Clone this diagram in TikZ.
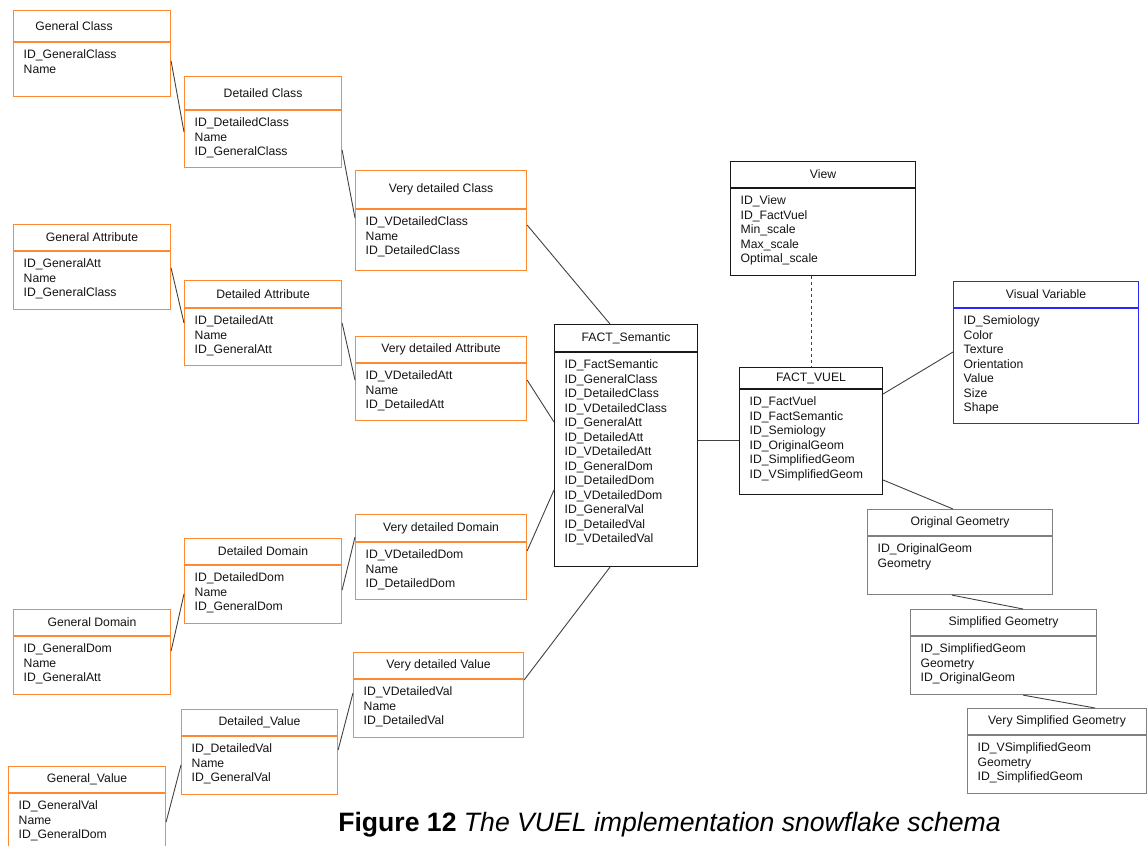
\documentclass[tikz,border=0pt]{standalone}
\usepackage{fontspec}
\setmainfont{Liberation Sans}
\usetikzlibrary{calc}

\definecolor{dimorange}{RGB}{255,137,51}
\definecolor{visblue}{RGB}{40,40,255}
\definecolor{geomgray}{RGB}{128,128,128}
\definecolor{factblack}{RGB}{25,25,25}
\definecolor{linkgray}{RGB}{65,65,65}
\definecolor{inkcol}{RGB}{20,20,20}

\def\titlexshift{0pt}
\tikzset{
  title xshift/.store in=\titlexshift,
  boxcol/.store in=\boxcolour,
  boxcol=factblack,
  tblbox/.style={draw=\boxcolour, line width=1.1pt, rectangle, inner sep=0pt, fill=white},
  tblrule/.style={draw=\boxcolour, line width=1.1pt},
  tbltitle/.style={inner sep=0pt, text=inkcol, font=\fontsize{12.2}{14.5}\selectfont},
  tblrows/.style={inner sep=0pt, text=inkcol, align=left, font=\fontsize{12.2}{14.5}\selectfont},
  orangetbl/.style={boxcol=dimorange},
  bluetbl/.style={boxcol=visblue},
  graytbl/.style={boxcol=geomgray},
  blacktbl/.style={boxcol=factblack},
  link/.style={draw=linkgray, line width=0.9pt},
}

% #1 name, #2 north-west corner, #3 width, #4 height,
% #5 header height, #6 style, #7 title, #8 attribute rows
\newcommand\schemabox[8]{%
  \begin{scope}[#6]
    \node[tblbox, minimum width=#3, minimum height=#4, anchor=north west] (#1) at (#2) {};
    \draw[tblrule] ([yshift=-#5]#1.north west) -- ([yshift=-#5]#1.north east);
    \node[tbltitle, xshift=\titlexshift] (#1-title) at ($(#1.north)!0.5!([yshift=-#5]#1.north)$) {#7};
    \node[tblrows, anchor=north west] (#1-rows) at ([xshift=10.5, yshift=-#5-7.5]#1.north west) {#8};
  \end{scope}}

\begin{document}
\begin{tikzpicture}[x=1pt, y=-1pt]
\useasboundingbox (0,0) rectangle (1147,845);

% class hierarchy
\schemabox{gc}{13,10}{157}{86}{32}{orangetbl, title xshift=-18pt}{General Class}{ID\_GeneralClass\\Name}
\schemabox{dc}{184,76}{157}{91}{34}{orangetbl}{Detailed Class}{ID\_DetailedClass\\Name\\ID\_GeneralClass}
\schemabox{vdc}{355,170}{171}{100}{39}{orangetbl}{Very detailed Class}{ID\_VDetailedClass\\Name\\ID\_DetailedClass}

% attribute hierarchy
\schemabox{ga}{13,224}{157}{85}{27}{orangetbl}{General Attribute}{ID\_GeneralAtt\\Name\\ID\_GeneralClass}
\schemabox{da}{184,280}{157}{85}{28}{orangetbl}{Detailed Attribute}{ID\_DetailedAtt\\Name\\ID\_GeneralAtt}
\schemabox{vda}{355,336}{171}{84}{27}{orangetbl}{Very detailed Attribute}{ID\_VDetailedAtt\\Name\\ID\_DetailedAtt}

% domain hierarchy
\schemabox{gd}{13,609}{157}{85}{27}{orangetbl}{General Domain}{ID\_GeneralDom\\Name\\ID\_GeneralAtt}
\schemabox{dd}{184,538}{157}{85}{27}{orangetbl}{Detailed Domain}{ID\_DetailedDom\\Name\\ID\_GeneralDom}
\schemabox{vdd}{355,514}{171}{85}{28}{orangetbl}{Very detailed Domain}{ID\_VDetailedDom\\Name\\ID\_DetailedDom}

% value hierarchy
\schemabox{gv}{8,766}{157}{100}{27}{orangetbl}{General\_Value}{ID\_GeneralVal\\Name\\ID\_GeneralDom}
\schemabox{dv}{181,709}{156}{85}{27}{orangetbl}{Detailed\_Value}{ID\_DetailedVal\\Name\\ID\_GeneralVal}
\schemabox{vdv}{353,652}{170}{85}{27}{orangetbl}{Very detailed Value}{ID\_VDetailedVal\\Name\\ID\_DetailedVal}

% fact tables
\schemabox{fs}{554,324}{143}{242}{28}{blacktbl}{FACT\_Semantic}{ID\_FactSemantic\\ID\_GeneralClass\\ID\_DetailedClass\\ID\_VDetailedClass\\ID\_GeneralAtt\\ID\_DetailedAtt\\ID\_VDetailedAtt\\ID\_GeneralDom\\ID\_DetailedDom\\ID\_VDetailedDom\\ID\_GeneralVal\\ID\_DetailedVal\\ID\_VDetailedVal}
\schemabox{fv}{739,367}{143}{127}{22}{blacktbl}{FACT\_VUEL}{ID\_FactVuel\\ID\_FactSemantic\\ID\_Semiology\\ID\_OriginalGeom\\ID\_SimplifiedGeom\\ID\_VSimplifiedGeom}
\schemabox{view}{730,161}{185}{114}{27}{blacktbl}{View}{ID\_View\\ID\_FactVuel\\Min\_scale\\Max\_scale\\Optimal\_scale}
\schemabox{vv}{953,281}{185}{142}{27}{bluetbl}{Visual Variable}{ID\_Semiology\\Color\\Texture\\Orientation\\Value\\Size\\Shape}

% geometry hierarchy
\schemabox{og}{867,509}{185}{85}{27}{graytbl}{Original Geometry}{ID\_OriginalGeom\\Geometry}
\schemabox{sg}{910,609}{186}{85}{27}{graytbl}{Simplified Geometry}{ID\_SimplifiedGeom\\Geometry\\ID\_OriginalGeom}
\schemabox{vsg}{967,708}{179}{85}{27}{graytbl}{Very Simplified Geometry}{ID\_VSimplifiedGeom\\Geometry\\ID\_SimplifiedGeom}

% links between the tables
\draw[link] ([yshift=-51]gc.north east) -- ([yshift=-56]dc.north west);
\draw[link] ([yshift=-74]dc.north east) -- ([yshift=-48]vdc.north west);
\draw[link] ([yshift=-44]ga.north east) -- ([yshift=-43]da.north west);
\draw[link] ([yshift=-43]da.north east) -- ([yshift=-44]vda.north west);
\draw[link] ([yshift=-42]gd.north east) -- ([yshift=-56]dd.north west);
\draw[link] ([yshift=-52]dd.north east) -- ([yshift=-23]vdd.north west);
\draw[link] ([yshift=-56]gv.north east) -- ([yshift=-56]dv.north west);
\draw[link] ([yshift=-41]dv.north east) -- ([yshift=-41]vdv.north west);

\draw[link] ([yshift=-55]vdc.north east) -- ([xshift=56]fs.north west);
\draw[link] ([yshift=-44]vda.north east) -- ([yshift=-98]fs.north west);
\draw[link] ([yshift=-37]vdd.north east) -- ([yshift=-166]fs.north west);
\draw[link] ([yshift=-28]vdv.north east) -- ([xshift=56]fs.south west);

\draw[link] ([yshift=-116]fs.north east) -- ([yshift=-73]fv.north west);
\draw[link, dashed] ([xshift=81]view.south west) -- ([xshift=72]fv.north west);
\draw[link] ([yshift=-71]vv.north west) -- ([yshift=-27]fv.north east);
\draw[link] ([yshift=-113]fv.north east) -- ([xshift=86]og.north west);
\draw[link] ([xshift=85]og.south west) -- ([xshift=113]sg.north west);
\draw[link] ([xshift=113]sg.south west) -- ([xshift=128]vsg.north west);

% caption
\node[inner sep=0pt, text=black, font=\fontsize{26.6}{31}\selectfont] (caption) at (669.5,825)
  {\textbf{Figure 12} \textit{The VUEL implementation snowflake schema}};
\end{tikzpicture}
\end{document}
